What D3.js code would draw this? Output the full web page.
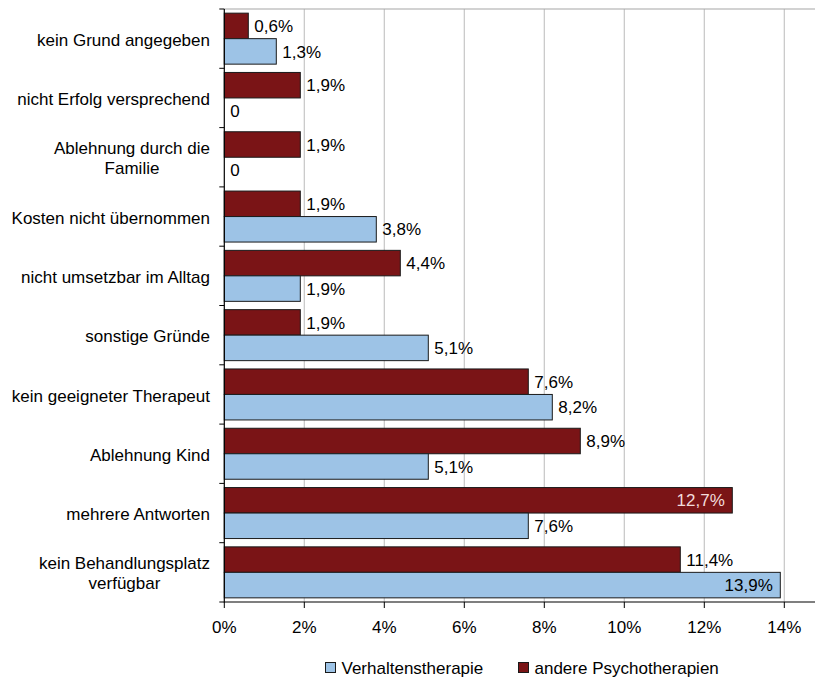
<!DOCTYPE html>
<html>
<head>
<meta charset="utf-8">
<script src="https://cdn.jsdelivr.net/npm/d3@7"></script>
<style>
  html, body { margin: 0; padding: 0; background: #fff; }
  svg { display: block; }
  text { font-family: "Liberation Sans", Arial, sans-serif; fill: #000; }
</style>
</head>
<body>
<svg id="chart" width="815" height="677"></svg>
<script>
// Gründe gegen eine Psychotherapie, Anteile in Prozent
const categories = [
  "kein Grund angegeben",
  "nicht Erfolg versprechend",
  "Ablehnung durch die\nFamilie",
  "Kosten nicht übernommen",
  "nicht umsetzbar im Alltag",
  "sonstige Gründe",
  "kein geeigneter Therapeut",
  "Ablehnung Kind",
  "mehrere Antworten",
  "kein Behandlungsplatz\nverfügbar"
];
const andereValues = [0.6, 1.9, 1.9, 1.9, 4.4, 1.9, 7.6, 8.9, 12.7, 11.4];
const verhaltensValues = [1.3, 0, 0, 3.8, 1.9, 5.1, 8.2, 5.1, 7.6, 13.9];
const seriesNames = ["andere Psychotherapien", "Verhaltenstherapie"];
const legendOrder = ["Verhaltenstherapie", "andere Psychotherapien"];
const xTicks = [0, 2, 4, 6, 8, 10, 12, 14];

const colors = {
  "andere Psychotherapien": "#7a1416",
  "Verhaltenstherapie": "#9dc3e6"
};
const insideLabel = { "andere Psychotherapien": "#f2dcdb", "Verhaltenstherapie": "#000" };

const svg = d3.select("#chart");
const plotLeft = 224.3, plotTop = 9, plotBottom = 602, plotRight = 815;
const fontSize = 17;

const x = d3.scaleLinear().domain([0, 14]).range([plotLeft, plotLeft + 560]);
const y = d3.scaleBand().domain(categories).range([plotTop, plotBottom]);
const ySub = d3.scaleBand().domain(seriesNames).range([0, y.bandwidth()])
  .paddingInner(0).paddingOuter(0.163);

const rows = categories.map((c, i) => ({
  cat: c,
  vals: [
    { s: "andere Psychotherapien", v: andereValues[i] },
    { s: "Verhaltenstherapie", v: verhaltensValues[i] }
  ]
}));

// gridlines and plot frame
const grid = svg.append("g");
grid.selectAll("line.v").data(xTicks.filter(t => t > 0)).join("line")
  .attr("x1", d => x(d)).attr("x2", d => x(d))
  .attr("y1", plotTop).attr("y2", plotBottom)
  .attr("stroke", "#c6c6c6").attr("stroke-width", 1.2);
grid.append("line")
  .attr("x1", plotLeft).attr("x2", plotRight).attr("y1", plotTop).attr("y2", plotTop)
  .attr("stroke", "#a6a6a6").attr("stroke-width", 1.2);

// bars
const fmt = v => v === 0 ? "0" : (v.toFixed(1).replace(".", ",") + "%");
const groups = svg.append("g").selectAll("g").data(rows).join("g")
  .attr("transform", d => `translate(0,${y(d.cat)})`);

groups.selectAll("rect").data(d => d.vals.filter(e => e.v > 0)).join("rect")
  .attr("x", x(0))
  .attr("y", d => ySub(d.s))
  .attr("width", d => x(d.v) - x(0))
  .attr("height", ySub.bandwidth())
  .attr("fill", d => colors[d.s])
  .attr("stroke", "#1a1a1a")
  .attr("stroke-width", 1);

// value labels: inside the bar when it would run past the last gridline
groups.selectAll("text.val").data(d => d.vals).join("text")
  .attr("class", "val")
  .attr("font-size", fontSize)
  .attr("y", d => ySub(d.s) + ySub.bandwidth() / 2)
  .attr("dy", "0.36em")
  .each(function(d) {
    const t = d3.select(this);
    if (d.v >= 12.5) {
      t.attr("x", x(d.v) - 7.5).attr("text-anchor", "end")
        .style("fill", insideLabel[d.s]);
    } else {
      t.attr("x", x(d.v) + 6).attr("text-anchor", "start");
    }
  })
  .text(d => fmt(d.v));

// y axis
const yAxis = svg.append("g");
yAxis.append("line").attr("x1", plotLeft).attr("x2", plotLeft).attr("y1", plotTop).attr("y2", plotBottom + 0.5)
  .attr("stroke", "#000").attr("stroke-width", 1.2);
const bounds = categories.map(c => y(c)).concat([plotBottom]);
yAxis.selectAll("line.tick").data(bounds).join("line")
  .attr("x1", plotLeft - 5).attr("x2", plotLeft).attr("y1", d => d).attr("y2", d => d)
  .attr("stroke", "#000").attr("stroke-width", 1);

// category labels, multi-line ones centred as a block
const labelRight = 210;
yAxis.selectAll("text.cat").data(categories).join("text")
  .attr("class", "cat")
  .attr("font-size", fontSize)
  .each(function(c) {
    const t = d3.select(this);
    const lines = c.split("\n");
    const cy = y(c) + y.bandwidth() / 2 + 1;
    const lh = 20;
    lines.forEach((ln, i) => {
      t.append("tspan").attr("y", cy + (i - (lines.length - 1) / 2) * lh)
        .attr("dy", "0.36em").text(ln);
    });
    if (lines.length === 1) {
      t.attr("text-anchor", "end");
      t.selectAll("tspan").attr("x", labelRight);
    } else {
      let maxW = 0;
      t.selectAll("tspan").each(function() { maxW = Math.max(maxW, this.getComputedTextLength()); });
      t.attr("text-anchor", "middle");
      t.selectAll("tspan").attr("x", labelRight - maxW / 2);
    }
  });

// x axis
const xAxis = svg.append("g");
xAxis.append("line").attr("x1", plotLeft).attr("x2", plotRight).attr("y1", plotBottom).attr("y2", plotBottom)
  .attr("stroke", "#000").attr("stroke-width", 1.2);
xAxis.selectAll("line.tick").data(xTicks).join("line")
  .attr("x1", d => x(d)).attr("x2", d => x(d)).attr("y1", plotBottom).attr("y2", plotBottom + 6)
  .attr("stroke", "#000").attr("stroke-width", 1);
xAxis.selectAll("text").data(xTicks).join("text")
  .attr("font-size", fontSize)
  .attr("text-anchor", "middle")
  .attr("x", d => x(d)).attr("y", 627).attr("dy", "0.36em")
  .text(d => d + "%");

// legend
const legendX = { "Verhaltenstherapie": 325.5, "andere Psychotherapien": 518.5 };
const legend = svg.append("g").selectAll("g").data(legendOrder).join("g")
  .attr("transform", d => `translate(${legendX[d]},667.5)`);
legend.append("rect").attr("x", 0).attr("y", -5).attr("width", 10).attr("height", 10)
  .attr("fill", d => colors[d]).attr("stroke", "#1a1a1a").attr("stroke-width", 1);
legend.append("text").attr("x", 16).attr("y", 0).attr("dy", "0.36em")
  .attr("font-size", fontSize).text(d => d);
</script>
</body>
</html>
